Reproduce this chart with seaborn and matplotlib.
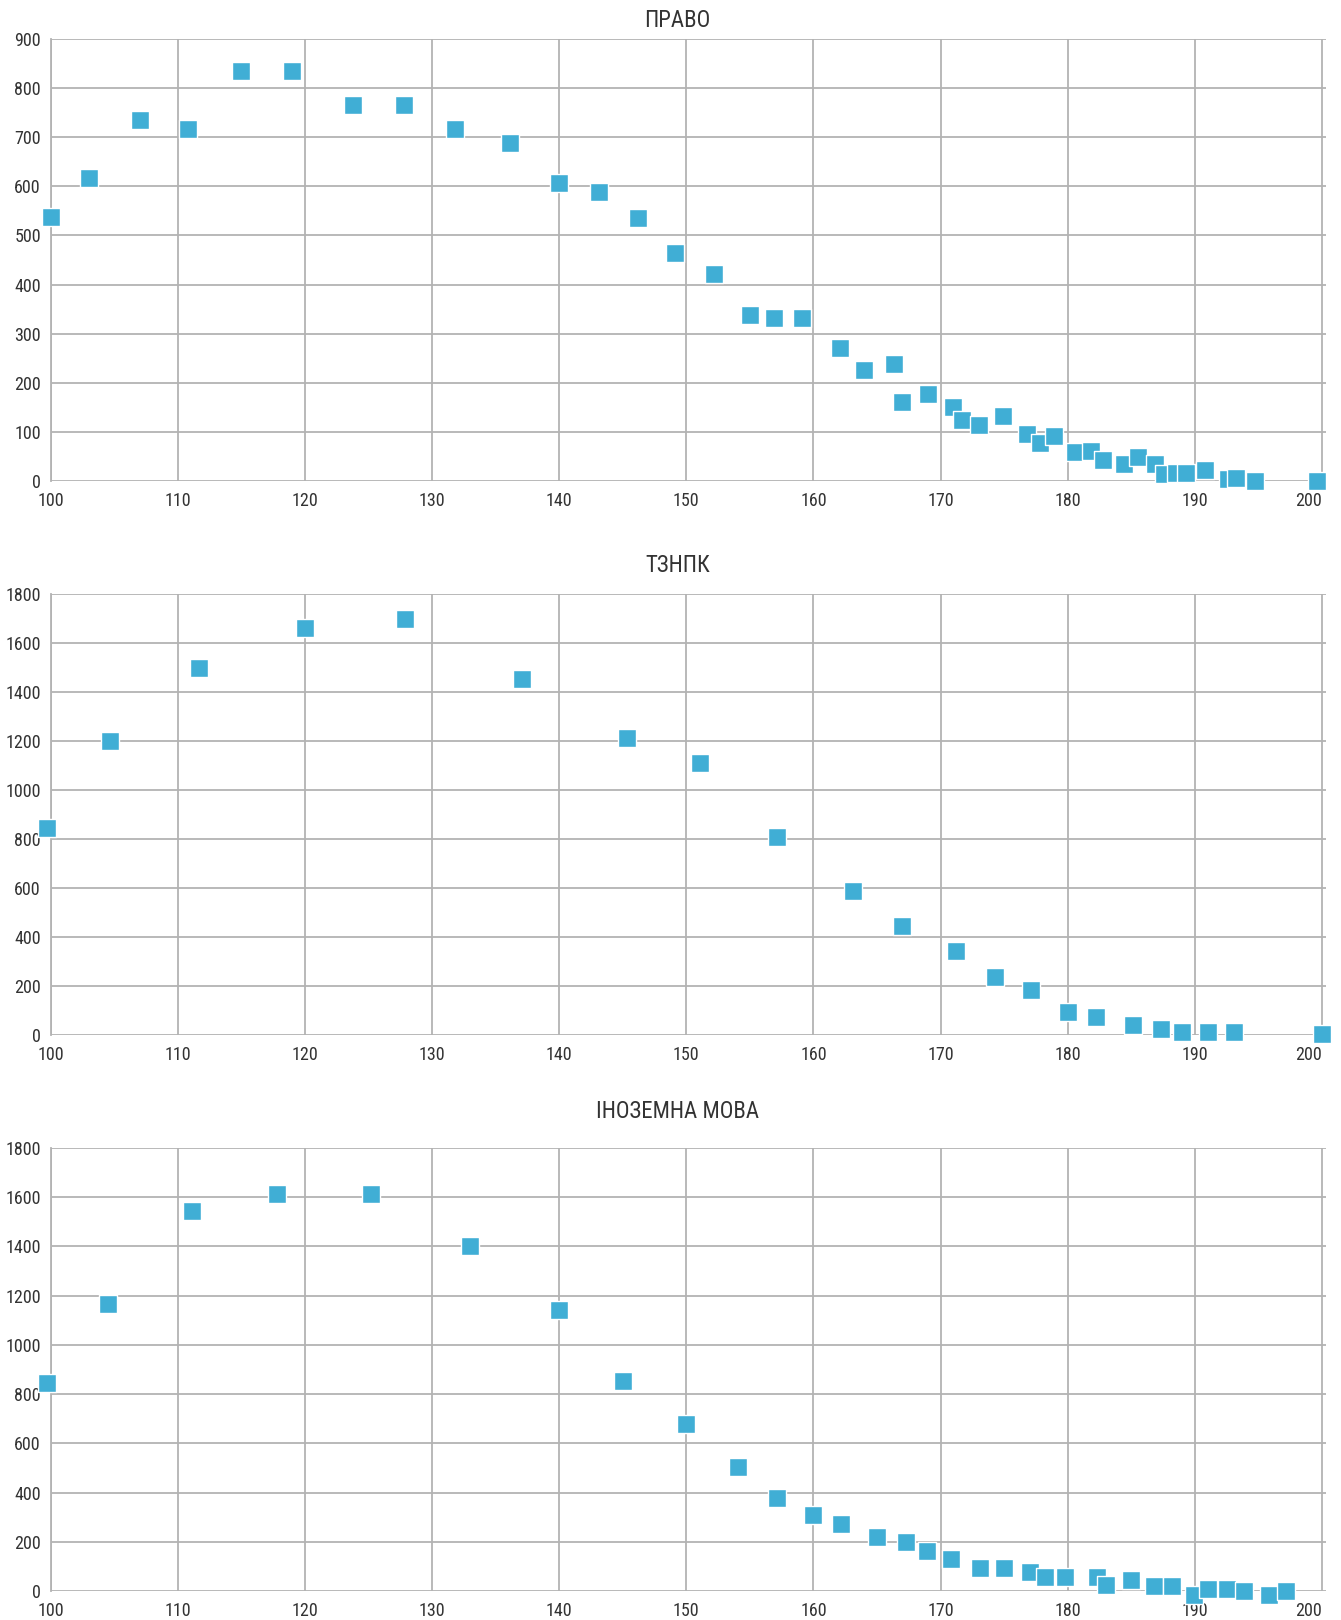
import numpy as np
import pandas as pd
import matplotlib
matplotlib.use("Agg")
import matplotlib.pyplot as plt
import seaborn as sns

# -----------------------------
# Data (score -> number of applicants)
# -----------------------------

pravo_scores = [100, 103, 107, 110.8, 115, 119, 123.8, 127.8, 131.8, 136.1,
                140, 143.1, 146.2, 149.1, 152.2, 155, 156.9, 159.1, 162.1, 164,
                166.3, 167, 169, 171, 171.7, 173, 174.9, 176.8, 177.8, 178.9,
                180.6, 181.8, 182.8, 184.4, 185.5, 186.9, 187.6, 188.5, 189.3, 190.8,
                192.6, 193.2, 194.7, 199.6]
pravo_counts = [538, 618, 735, 717, 835, 835, 765, 765, 717, 688,
                607, 588, 536, 464, 422, 339, 331, 331, 270, 227,
                239, 161, 178, 150, 124, 114, 132, 96, 78, 91,
                60, 61, 42, 35, 49, 34, 14, 17, 17, 22,
                5, 7, 0, 0]

tznpk_scores = [99.75, 104.7, 111.7, 120, 127.9, 137.1, 145.3, 151.1, 157.1, 163.1,
                167, 171.2, 174.3, 177.1, 180, 182.2, 185.1, 187.3, 189, 191,
                193.1, 200]
tznpk_counts = [845, 1201, 1500, 1663, 1700, 1452, 1213, 1112, 807, 588,
                443, 344, 236, 182, 95, 75, 40, 23, 14, 14,
                14, 3]

mova_scores = [99.75, 104.5, 111.1, 117.8, 125.2, 133, 140, 145.05, 150, 154.1,
               157.1, 160, 162.2, 165, 167.3, 168.9, 170.8, 173.1, 175, 177,
               178.2, 179.8, 182.3, 183, 185, 186.8, 188.2, 189.9, 191, 192.5,
               193.9, 195.8, 197.2]
mova_counts = [845, 1166, 1544, 1614, 1614, 1402, 1142, 855, 679, 504,
               379, 308, 272, 218, 199, 164, 129, 93, 93, 79,
               58, 58, 58, 23, 43, 22, 22, -15, 7, 7,
               0, -15, 0]

titles = ["ПРАВО", "ТЗНПК", "ІНОЗЕМНА МОВА"]
x_ticks = list(range(100, 201, 10))
y_ticks_small = list(range(0, 901, 100))
y_ticks_big = list(range(0, 1801, 200))

# -----------------------------
# Style
# -----------------------------

sns.set_style("white")
plt.rcParams['font.family'] = ['Roboto Condensed', 'Liberation Sans Narrow',
                               'Roboto', 'DejaVu Sans']

MARKER_COLOR = "#40AED5"
GRID_COLOR = "#b3b3b3"
TEXT_COLOR = "#333333"

fig = plt.figure(figsize=(13.41, 16.2), dpi=100)

panels = [
    (pravo_scores, pravo_counts, y_ticks_small, [0.0377, 0.7031, 0.951, 0.2728], 0.9875),
    (tznpk_scores, tznpk_counts, y_ticks_big, [0.0377, 0.3611, 0.951, 0.2722], 0.651),
    (mova_scores, mova_counts, y_ticks_big, [0.0377, 0.0179, 0.951, 0.2735], 0.3137),
]

for (scores, counts, yticks, rect, title_y), title in zip(panels, titles):
    ax = fig.add_axes(rect)
    df = pd.DataFrame({"score": scores, "count": counts})

    sns.scatterplot(data=df, x="score", y="count", ax=ax, marker="s", s=165,
                    color=MARKER_COLOR, edgecolor="white", linewidth=1,
                    clip_on=False, zorder=3)

    ax.set_xlim(100, 200.3)
    ax.set_ylim(yticks[0], yticks[-1])
    ax.set_xticks(x_ticks)
    ax.set_yticks(yticks)
    ax.grid(True, color=GRID_COLOR, linewidth=1.3, zorder=0)
    ax.set_axisbelow(True)
    for side in ["top", "right", "bottom"]:
        ax.spines[side].set_visible(False)
    ax.spines["left"].set_color(GRID_COLOR)
    ax.spines["left"].set_linewidth(1.3)
    ax.tick_params(axis="both", colors=GRID_COLOR, labelcolor=TEXT_COLOR,
                   labelsize=13, length=5, width=1.2)
    ax.tick_params(axis="y", pad=2)
    ax.tick_params(axis="x", pad=3)
    ax.set_xlabel("")
    ax.set_ylabel("")

    # last label sits inside the right edge
    xlabels = ax.get_xticklabels()
    xlabels[-1].set_horizontalalignment("right")
    xlabels[-1].set_x(200.8)

    fig.text(0.5054, title_y, title, ha="center", va="center",
             fontsize=16.5, color=TEXT_COLOR)

plt.savefig("out.png", dpi=100)
